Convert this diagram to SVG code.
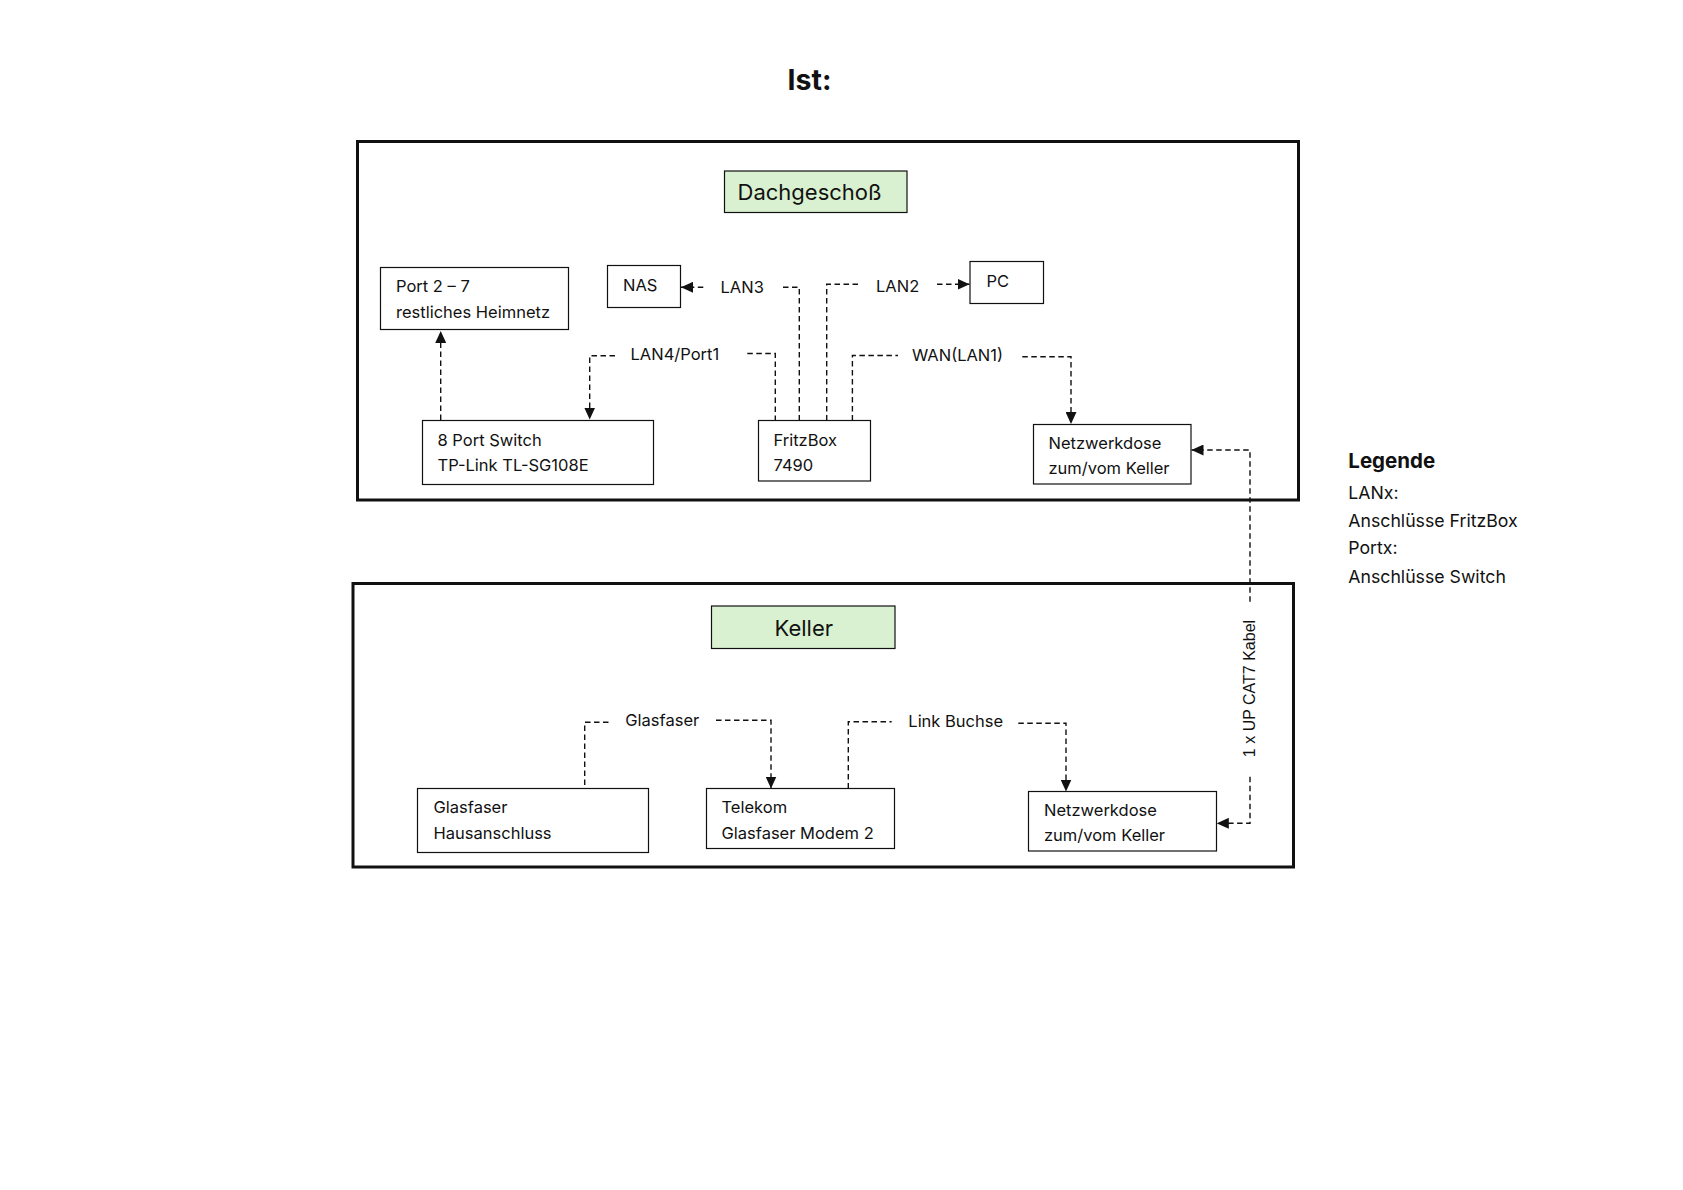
<svg xmlns="http://www.w3.org/2000/svg" width="1683" height="1190" viewBox="0 0 1683 1190">
  <style>
    .t { font-family: Inter, "Liberation Sans", sans-serif; font-size: 16.5px; fill: #111; }
    .box { fill: #fff; stroke: #111; stroke-width: 1.2; }
    .frame { fill: none; stroke: #111; stroke-width: 3; }
    .hdr { fill: #d9f1d0; stroke: #111; stroke-width: 1.2; }
    .ht { font-family: Inter, "Liberation Sans", sans-serif; font-size: 22px; fill: #111; }
    .c { fill: none; stroke: #111; stroke-width: 1.4; stroke-dasharray: 5.5 3.5; }
    .lg { font-family: Inter, "Liberation Sans", sans-serif; font-size: 17.7px; fill: #111; }
  </style>
  <defs>
    <marker id="ah" markerUnits="userSpaceOnUse" viewBox="0 0 12 11" markerWidth="12" markerHeight="11" refX="12" refY="5.5" orient="auto">
      <path d="M0,0 L12,5.5 L0,11 z" fill="#111"/>
    </marker>
  </defs>
  <rect width="1683" height="1190" fill="#fff"/>

  <text id="title" x="787.5" y="90" font-family="Inter, 'Liberation Sans', sans-serif" font-size="28.5" font-weight="bold" fill="#111">Ist:</text>

  <g id="frame-dachgeschoss">
    <rect class="frame" x="357.5" y="141.5" width="941" height="358.5"/>
  </g>
  <g id="frame-keller">
    <rect class="frame" x="353" y="583.5" width="940.5" height="283.5"/>
  </g>

  <g id="hdr-dachgeschoss">
    <rect class="hdr" x="724.5" y="171" width="182.5" height="41.5"/>
    <text class="ht" x="737.5" y="200">Dachgeschoß</text>
  </g>
  <g id="hdr-keller">
    <rect class="hdr" x="711.5" y="606" width="183.5" height="42.5"/>
    <text class="ht" x="774.5" y="636">Keller</text>
  </g>

  <g id="node-port">
    <rect class="box" x="380.5" y="267.5" width="188" height="62"/>
    <text class="t" x="396" y="292">Port 2 – 7</text>
    <text class="t" x="396" y="318">restliches Heimnetz</text>
  </g>
  <g id="node-nas">
    <rect class="box" x="607.5" y="265.5" width="73" height="42"/>
    <text class="t" x="623" y="290.5">NAS</text>
  </g>
  <g id="node-pc">
    <rect class="box" x="970" y="261.5" width="73.5" height="42"/>
    <text class="t" x="986.5" y="286.5">PC</text>
  </g>
  <g id="node-switch">
    <rect class="box" x="422.5" y="420.5" width="231" height="64"/>
    <text class="t" x="437.5" y="446">8 Port Switch</text>
    <text class="t" x="437.5" y="471">TP-Link TL-SG108E</text>
  </g>
  <g id="node-fritzbox">
    <rect class="box" x="758.5" y="420.5" width="112" height="60.5"/>
    <text class="t" x="773.5" y="446">FritzBox</text>
    <text class="t" x="773.5" y="471">7490</text>
  </g>
  <g id="node-dose-oben">
    <rect class="box" x="1033.5" y="424.5" width="157.5" height="59.5"/>
    <text class="t" x="1048.5" y="448.5">Netzwerkdose</text>
    <text class="t" x="1048.5" y="474">zum/vom Keller</text>
  </g>
  <g id="node-glasfaser">
    <rect class="box" x="417.5" y="788.5" width="231" height="64"/>
    <text class="t" x="433.5" y="812.5">Glasfaser</text>
    <text class="t" x="433.5" y="838.5">Hausanschluss</text>
  </g>
  <g id="node-telekom">
    <rect class="box" x="706.5" y="788.5" width="188" height="60"/>
    <text class="t" x="721.5" y="812.5">Telekom</text>
    <text class="t" x="721.5" y="838.5">Glasfaser Modem 2</text>
  </g>
  <g id="node-dose-unten">
    <rect class="box" x="1028.5" y="791.5" width="188" height="59.5"/>
    <text class="t" x="1044" y="815.5">Netzwerkdose</text>
    <text class="t" x="1044" y="840.5">zum/vom Keller</text>
  </g>

  <g id="connectors">
    <path class="c" d="M440.7,420 V331" marker-end="url(#ah)"/>

    <path class="c" d="M615,355.7 H589.7 V419.5" marker-end="url(#ah)"/>
    <text class="t" x="630.5" y="359.5">LAN4/Port1</text>
    <path class="c" d="M747.3,353.5 H775.3 V420.5"/>

    <path class="c" d="M799.3,420.5 V287.3 H782"/>
    <text class="t" x="720.5" y="293">LAN3</text>
    <path class="c" d="M703.3,287.3 H681" marker-end="url(#ah)"/>

    <path class="c" d="M826.7,420.5 V284.3 H859.7"/>
    <text class="t" x="876" y="292.3">LAN2</text>
    <path class="c" d="M937,284.3 H969.5" marker-end="url(#ah)"/>

    <path class="c" d="M852.4,420.5 V355.5 H898"/>
    <text class="t" x="912" y="360.7">WAN(LAN1)</text>
    <path class="c" d="M1022.3,356.7 H1071 V424" marker-end="url(#ah)"/>

    <path class="c" d="M1250,601.7 V450 H1191.5" marker-end="url(#ah)"/>
    <text x="0" y="0" transform="translate(1255,688.5) rotate(-90)" text-anchor="middle" font-family="'Liberation Sans', Arial, sans-serif" font-size="16" fill="#111">1 x UP CAT7 Kabel</text>
    <path class="c" d="M1250,776.7 V823.3 H1216.8" marker-end="url(#ah)"/>

    <path class="c" d="M584.7,785 V722.3 H610"/>
    <text class="t" x="625.3" y="725.7">Glasfaser</text>
    <path class="c" d="M716,720.3 H771 V788.5" marker-end="url(#ah)"/>

    <path class="c" d="M848.3,788.5 V721.7 H891.7"/>
    <text class="t" x="908.3" y="726.7">Link Buchse</text>
    <path class="c" d="M1018.3,723.3 H1066 V791.5" marker-end="url(#ah)"/>
  </g>

  <g id="legend">
    <text x="1348.3" y="467.7" font-family="Inter, 'Liberation Sans', sans-serif" font-size="20.5" font-weight="bold" fill="#111">Legende</text>
    <text class="lg" x="1348.3" y="499">LANx:</text>
    <text class="lg" x="1348.3" y="526.7">Anschlüsse FritzBox</text>
    <text class="lg" x="1348.3" y="554.3">Portx:</text>
    <text class="lg" x="1348.3" y="582.7">Anschlüsse Switch</text>
  </g>
</svg>
